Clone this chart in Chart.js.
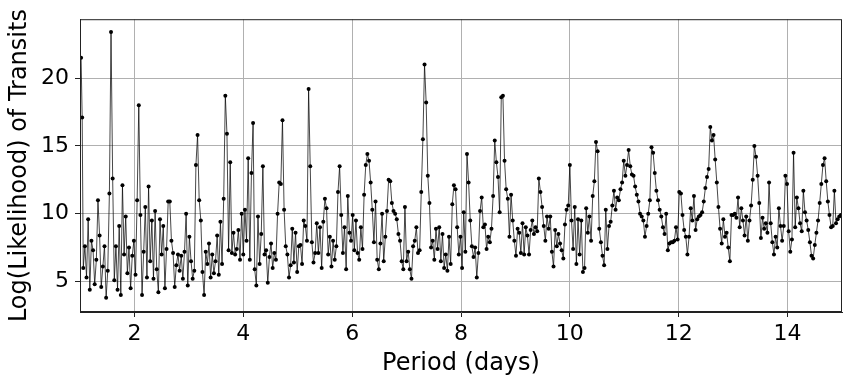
<!DOCTYPE html>
<html>
<head>
<meta charset="utf-8">
<script src="https://cdn.jsdelivr.net/npm/chart.js@4.4.1/dist/chart.umd.min.js"></script>
<style>
  html, body { margin: 0; padding: 0; background: #fff; }
  #wrap { width: 851px; height: 384px; }
</style>
</head>
<body>
<div id="wrap"><canvas id="periodogram" width="851" height="384"></canvas></div>
<script>
// trial periods (days)
const periods = [
  1.02, 1.04, 1.06, 1.09, 1.12, 1.15, 1.18, 1.21, 1.24, 1.27,
  1.30, 1.33, 1.36, 1.39, 1.42, 1.45, 1.48, 1.51, 1.54, 1.57,
  1.60, 1.63, 1.66, 1.69, 1.72, 1.75, 1.78, 1.81, 1.84, 1.87,
  1.90, 1.93, 1.96, 1.99, 2.02, 2.05, 2.08, 2.11, 2.14, 2.17,
  2.20, 2.23, 2.26, 2.29, 2.32, 2.35, 2.38, 2.41, 2.44, 2.47,
  2.50, 2.53, 2.56, 2.59, 2.62, 2.65, 2.68, 2.71, 2.74, 2.77,
  2.80, 2.83, 2.86, 2.89, 2.92, 2.95, 2.98, 3.01, 3.04, 3.07,
  3.10, 3.13, 3.16, 3.19, 3.22, 3.25, 3.28, 3.31, 3.34, 3.37,
  3.40, 3.43, 3.46, 3.49, 3.52, 3.55, 3.58, 3.61, 3.64, 3.67,
  3.70, 3.73, 3.76, 3.79, 3.82, 3.85, 3.88, 3.91, 3.94, 3.97,
  4.00, 4.03, 4.06, 4.09, 4.12, 4.15, 4.18, 4.21, 4.24, 4.27,
  4.30, 4.33, 4.36, 4.39, 4.42, 4.45, 4.48, 4.51, 4.54, 4.57,
  4.60, 4.63, 4.66, 4.69, 4.72, 4.75, 4.78, 4.81, 4.84, 4.87,
  4.90, 4.93, 4.96, 4.99, 5.02, 5.05, 5.08, 5.11, 5.14, 5.17,
  5.20, 5.23, 5.26, 5.29, 5.32, 5.35, 5.38, 5.41, 5.44, 5.47,
  5.50, 5.53, 5.56, 5.59, 5.62, 5.65, 5.68, 5.71, 5.74, 5.77,
  5.80, 5.83, 5.86, 5.89, 5.92, 5.95, 5.98, 6.01, 6.04, 6.07,
  6.10, 6.13, 6.16, 6.19, 6.22, 6.25, 6.28, 6.31, 6.34, 6.37,
  6.40, 6.43, 6.46, 6.49, 6.52, 6.55, 6.58, 6.61, 6.64, 6.67,
  6.70, 6.73, 6.76, 6.79, 6.82, 6.85, 6.88, 6.91, 6.94, 6.97,
  7.00, 7.03, 7.06, 7.09, 7.12, 7.15, 7.18, 7.21, 7.24, 7.27,
  7.30, 7.33, 7.36, 7.39, 7.42, 7.45, 7.48, 7.51, 7.54, 7.57,
  7.60, 7.63, 7.66, 7.69, 7.72, 7.75, 7.78, 7.81, 7.84, 7.87,
  7.90, 7.93, 7.96, 7.99, 8.02, 8.05, 8.08, 8.11, 8.14, 8.17,
  8.20, 8.23, 8.26, 8.29, 8.32, 8.35, 8.38, 8.41, 8.44, 8.47,
  8.50, 8.53, 8.56, 8.59, 8.62, 8.65, 8.68, 8.71, 8.74, 8.77,
  8.80, 8.83, 8.86, 8.89, 8.92, 8.95, 8.98, 9.01, 9.04, 9.07,
  9.10, 9.13, 9.16, 9.19, 9.22, 9.25, 9.28, 9.31, 9.34, 9.37,
  9.40, 9.43, 9.46, 9.49, 9.52, 9.55, 9.58, 9.61, 9.64, 9.67,
  9.70, 9.73, 9.76, 9.79, 9.82, 9.85, 9.88, 9.91, 9.94, 9.97,
  10.00, 10.03, 10.06, 10.09, 10.12, 10.15, 10.18, 10.21, 10.24, 10.27,
  10.30, 10.33, 10.36, 10.39, 10.42, 10.45, 10.48, 10.51, 10.54, 10.57,
  10.60, 10.63, 10.66, 10.69, 10.72, 10.75, 10.78, 10.81, 10.84, 10.87,
  10.90, 10.93, 10.96, 10.99, 11.02, 11.05, 11.08, 11.11, 11.14, 11.17,
  11.20, 11.23, 11.26, 11.29, 11.32, 11.35, 11.38, 11.41, 11.44, 11.47,
  11.50, 11.53, 11.56, 11.59, 11.62, 11.65, 11.68, 11.71, 11.74, 11.77,
  11.80, 11.83, 11.86, 11.89, 11.92, 11.95, 11.98, 12.01, 12.04, 12.07,
  12.10, 12.13, 12.16, 12.19, 12.22, 12.25, 12.28, 12.31, 12.34, 12.37,
  12.40, 12.43, 12.46, 12.49, 12.52, 12.55, 12.58, 12.61, 12.64, 12.67,
  12.70, 12.73, 12.76, 12.79, 12.82, 12.85, 12.88, 12.91, 12.94, 12.97,
  13.00, 13.03, 13.06, 13.09, 13.12, 13.15, 13.18, 13.21, 13.24, 13.27,
  13.30, 13.33, 13.36, 13.39, 13.42, 13.45, 13.48, 13.51, 13.54, 13.57,
  13.60, 13.63, 13.66, 13.69, 13.72, 13.75, 13.78, 13.81, 13.84, 13.87,
  13.90, 13.93, 13.96, 13.99, 14.02, 14.05, 14.08, 14.11, 14.14, 14.17,
  14.20, 14.23, 14.26, 14.29, 14.32, 14.35, 14.38, 14.41, 14.44, 14.47,
  14.50, 14.53, 14.56, 14.59, 14.62, 14.65, 14.68, 14.71, 14.74, 14.77,
  14.80, 14.83, 14.86, 14.89, 14.92, 14.95, 14.98
];

// log likelihood, one per period
const logLikelihood = [
  21.5, 17.1, 6.0, 7.6, 5.3, 9.6, 4.4, 8.0, 7.3, 4.8,
  6.6, 11.0, 8.4, 4.6, 6.1, 7.6, 3.8, 5.8, 11.5, 23.4,
  12.6, 5.1, 7.6, 4.4, 9.1, 4.0, 12.1, 7.0, 9.8, 5.6,
  7.5, 4.5, 6.9, 8.0, 5.5, 11.0, 18.0, 9.9, 4.0, 7.2,
  10.5, 5.3, 12.0, 6.5, 9.5, 5.2, 10.2, 5.9, 4.2, 9.6,
  7.0, 9.1, 4.5, 7.4, 10.9, 10.9, 8.0, 7.1, 4.6, 6.2,
  7.0, 5.8, 6.9, 5.2, 7.2, 10.0, 4.7, 8.3, 6.5, 5.2,
  5.8, 13.6, 15.8, 11.0, 9.5, 5.7, 4.0, 7.2, 6.3, 7.8,
  5.3, 7.0, 5.6, 6.5, 8.4, 5.5, 9.4, 6.3, 11.1, 18.7,
  15.9, 7.3, 13.8, 7.1, 8.6, 7.0, 7.4, 8.8, 6.6, 10.0,
  7.0, 10.3, 8.0, 14.1, 6.6, 13.0, 16.7, 5.9, 4.7, 9.8,
  6.3, 8.5, 13.5, 7.0, 7.3, 4.9, 6.8, 7.8, 6.0, 7.1,
  6.6, 10.0, 12.3, 12.2, 16.9, 10.3, 7.6, 7.0, 5.3, 6.2,
  8.9, 6.4, 8.6, 5.7, 7.6, 7.7, 6.3, 9.5, 9.1, 8.0,
  19.2, 13.5, 7.9, 6.4, 7.1, 9.3, 7.1, 9.0, 6.0, 9.4,
  11.1, 10.4, 7.0, 8.3, 6.1, 8.0, 6.6, 7.6, 11.6, 13.5,
  9.9, 7.1, 9.0, 5.9, 11.3, 8.6, 8.0, 9.9, 7.3, 9.5,
  7.1, 6.6, 9.0, 7.4, 11.4, 13.6, 14.4, 13.9, 12.3, 10.3,
  7.9, 10.9, 6.6, 5.9, 7.8, 10.0, 6.5, 8.3, 10.2, 12.5,
  12.4, 10.8, 10.2, 10.0, 9.6, 8.5, 8.0, 6.5, 5.9, 10.5,
  6.5, 7.2, 5.9, 5.2, 7.6, 8.0, 9.0, 7.1, 7.3, 11.6,
  15.5, 21.0, 18.2, 12.8, 10.8, 7.5, 8.0, 6.6, 8.9, 7.4,
  9.0, 6.5, 8.5, 6.0, 7.0, 5.8, 8.3, 6.3, 10.7, 12.1,
  11.8, 9.0, 7.0, 8.3, 6.0, 10.1, 7.2, 14.4, 12.3, 9.5,
  7.6, 6.8, 7.5, 5.3, 7.1, 10.2, 11.2, 9.0, 9.2, 7.4,
  8.3, 7.9, 8.9, 11.3, 15.4, 13.8, 12.7, 10.1, 18.6, 18.7,
  13.9, 11.8, 11.1, 8.3, 11.4, 9.5, 8.0, 6.9, 8.9, 8.6,
  7.1, 9.3, 7.0, 9.0, 8.4, 7.0, 8.8, 9.5, 8.5, 9.0,
  8.7, 12.6, 11.6, 10.5, 9.1, 8.0, 9.8, 8.9, 9.8, 7.2,
  6.1, 8.8, 7.6, 8.5, 7.8, 7.3, 6.7, 9.2, 10.3, 10.6,
  13.6, 9.5, 7.4, 10.5, 6.3, 9.6, 7.0, 9.5, 5.7, 6.0,
  10.4, 8.6, 9.8, 8.0, 11.3, 12.4, 15.3, 14.6, 8.9, 7.9,
  6.9, 6.2, 10.3, 7.4, 9.1, 9.4, 10.6, 11.7, 10.3, 11.2,
  11.0, 11.8, 12.3, 13.9, 12.8, 13.6, 14.7, 13.5, 12.9, 12.8,
  12.0, 11.4, 10.9, 10.0, 9.8, 9.5, 8.3, 9.1, 10.0, 11.0,
  14.9, 14.5, 13.0, 11.7, 11.0, 10.3, 9.8, 9.0, 8.5, 10.0,
  7.3, 7.8, 7.9, 7.9, 8.0, 9.0, 8.1, 11.6, 11.5, 9.9,
  8.8, 8.3, 7.0, 8.3, 10.4, 9.5, 11.3, 8.8, 9.6, 9.8,
  9.9, 10.1, 10.9, 11.9, 12.7, 13.3, 16.4, 15.4, 15.8, 14.0,
  12.3, 10.5, 8.9, 7.8, 9.6, 8.3, 8.6, 7.5, 6.5, 9.9,
  9.9, 10.0, 9.7, 11.2, 9.0, 10.4, 9.5, 8.4, 9.8, 8.0,
  9.5, 10.6, 12.5, 15.0, 14.2, 12.8, 10.8, 8.2, 9.7, 8.9,
  9.3, 8.6, 12.3, 9.3, 7.9, 7.0, 8.3, 7.5, 10.4, 9.1,
  8.0, 9.1, 12.8, 12.2, 8.7, 7.2, 8.1, 14.5, 9.0, 11.2,
  10.4, 9.3, 8.7, 11.7, 10.1, 9.5, 8.8, 7.9, 6.9, 6.7,
  7.7, 8.6, 9.5, 10.8, 12.2, 13.6, 14.1, 12.4, 10.9, 9.9,
  9.0, 9.1, 11.7, 9.3, 9.6, 9.8, 9.9
];

const xTicks = [2, 4, 6, 8, 10, 12, 14];
const yTicks = [5, 10, 15, 20];

const fontFamily = "'DejaVu Sans', sans-serif";

// box around the plot, like matplotlib spines
const frame = {
  id: "frame",
  afterDraw(chart) {
    const a = chart.chartArea;
    const ctx = chart.ctx;
    ctx.save();
    ctx.strokeStyle = "#222";
    ctx.lineWidth = 1;
    ctx.strokeRect(a.left + 0.5, a.top + 0.5, a.right - a.left - 1, a.bottom - a.top - 1);
    ctx.restore();
  }
};

const ctx = document.getElementById("periodogram");

new Chart(ctx, {
  type: "line",
  data: {
    datasets: [{
      data: periods.map((p, i) => ({ x: p, y: logLikelihood[i] })),
      borderColor: "rgba(0,0,0,0.72)",
      borderWidth: 1,
      pointRadius: 2,
      pointBackgroundColor: "#000",
      pointBorderWidth: 0,
      tension: 0
    }]
  },
  options: {
    responsive: false,
    animation: false,
    devicePixelRatio: 1,
    layout: { padding: { top: 10, right: 9, left: 0, bottom: 0 } },
    plugins: {
      legend: { display: false },
      tooltip: { enabled: false }
    },
    scales: {
      x: {
        type: "linear",
        min: 1,
        max: 15,
        afterBuildTicks: function(scale) {
          scale.ticks = xTicks.map(v => ({ value: v }));
        },
        afterFit: function(scale) { scale.height = 72; },
        grid: { color: "#b0b0b0", lineWidth: 1, tickColor: "#222", tickLength: 5 },
        border: { color: "#222", width: 1 },
        ticks: {
          color: "#000",
          padding: 4,
          maxRotation: 0,
          font: { family: fontFamily, size: 22 }
        },
        title: {
          display: true,
          text: "Period (days)",
          color: "#000",
          padding: { top: 0, bottom: 6 },
          font: { family: fontFamily, size: 24 }
        }
      },
      y: {
        min: 2.75,
        max: 24.35,
        afterBuildTicks: function(scale) {
          scale.ticks = yTicks.map(v => ({ value: v }));
        },
        afterFit: function(scale) { scale.width = 80; },
        grid: { color: "#b0b0b0", lineWidth: 1, tickColor: "#222", tickLength: 5 },
        border: { color: "#222", width: 1 },
        ticks: {
          color: "#000",
          padding: 6,
          font: { family: fontFamily, size: 22 }
        },
        title: {
          display: true,
          text: "Log(Likelihood) of Transits",
          color: "#000",
          padding: { top: 5, bottom: 0 },
          font: { family: fontFamily, size: 24 }
        }
      }
    }
  },
  plugins: [frame]
});
</script>
</body>
</html>
